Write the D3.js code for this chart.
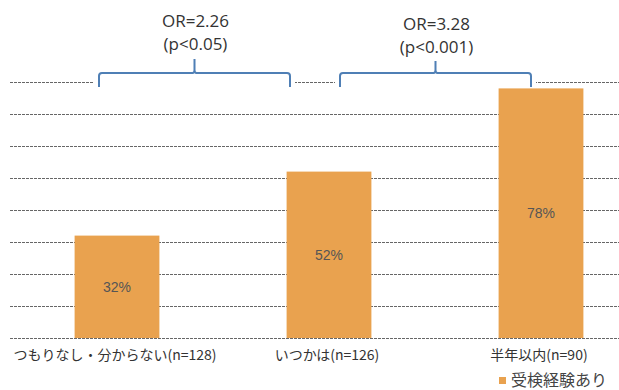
<!DOCTYPE html>
<html><head><meta charset="utf-8">
<script src="https://cdn.jsdelivr.net/npm/d3@7"></script>
<style>html,body{margin:0;padding:0;background:#fff;}svg{display:block;}</style>
</head><body>
<script>
const categories = ["つもりなし・分からない(n=128)", "いつかは(n=126)", "半年以内(n=90)"];
const values = [32, 52, 78];
const seriesName = "受検経験あり";
const gridTicks = [0, 10, 20, 30, 40, 50, 60, 70, 80];
const orLabels = ["OR=2.26", "OR=3.28"];
const pLabels = ["(p<0.05)", "(p<0.001)"];
const bracketPairs = [[0, 1], [1, 2]];

const W = 619, H = 390;
const svg = d3.select("body").append("svg").attr("width", W).attr("height", H);

const y = d3.scaleLinear().domain([0, 80]).range([338, 82]);
const x = d3.scaleBand().domain(categories).range([11, 647]).paddingInner(0.6).paddingOuter(0.3);
const xc = d => x(d) + x.bandwidth() / 2;

// gridlines
svg.append("g").selectAll("line").data(gridTicks).join("line")
  .attr("x1", 10).attr("x2", W)
  .attr("y1", d => Math.round(y(d)) + 0.5).attr("y2", d => Math.round(y(d)) + 0.5)
  .attr("stroke", "#555").attr("stroke-width", 0.9).attr("stroke-dasharray", "3,1");

// bars
svg.append("g").selectAll("rect").data(values).join("rect")
  .attr("x", (d, i) => x(categories[i])).attr("width", x.bandwidth())
  .attr("y", d => y(d)).attr("height", d => y(0) - y(d))
  .attr("fill", "#E9A24F");

// value labels
svg.append("g").selectAll("text").data(values).join("text")
  .attr("x", (d, i) => xc(categories[i]))
  .attr("y", d => (y(d) + y(0)) / 2 + 5)
  .attr("text-anchor", "middle")
  .attr("font-family", "Liberation Sans, Arial, sans-serif")
  .attr("font-size", 14).attr("fill", "#555")
  .text(d => d + "%");

// category labels
svg.append("g").selectAll("text").data(categories).join("text")
  .attr("x", d => xc(d) - 2).attr("y", 360)
  .attr("text-anchor", "middle")
  .attr("font-family", "Noto Sans CJK JP, sans-serif")
  .attr("font-size", 14).attr("fill", "#333")
  .text(d => d);

// brackets
bracketPairs.forEach((p, i) => {
  const x0 = xc(categories[p[0]]) + (i === 0 ? -18 : 11);
  const x1 = xc(categories[p[1]]) + (i === 0 ? -39 : -10);
  const mid = (x0 + x1) / 2;
  const hy = 73, ey = 87, r = 3;
  svg.append("rect").attr("x", x0 - 5).attr("y", hy).attr("width", x1 - x0 + 10).attr("height", 12).attr("fill", "#fff");
  const path = `M${x0},${ey} L${x0},${hy + r} Q${x0},${hy} ${x0 + r},${hy} L${mid - 2},${hy} Q${mid},${hy} ${mid},${hy - 3} L${mid},${hy - 14 + i * 2} M${mid},${hy - 3} Q${mid},${hy} ${mid + 2},${hy} L${x1 - r},${hy} Q${x1},${hy} ${x1},${hy + r} L${x1},${ey}`;
  svg.append("path").attr("d", path).attr("fill", "none").attr("stroke", "#4F7FB5").attr("stroke-width", 2);
  svg.append("text").attr("x", mid + 1).attr("y", 27 + i * 3).attr("text-anchor", "middle")
    .attr("font-family", "Open Sans, sans-serif").attr("font-size", 17).attr("fill", "#333").text(orLabels[i]);
  svg.append("text").attr("x", mid + 1).attr("y", 50 + i * 3).attr("text-anchor", "middle")
    .attr("font-family", "Open Sans, sans-serif").attr("font-size", 17).attr("fill", "#333").text(pLabels[i]);
});

// legend
const lg = svg.append("g").attr("transform", "translate(499,377)");
lg.append("rect").attr("width", 7).attr("height", 7).attr("fill", "#E9A24F");
lg.append("text").attr("x", 12).attr("y", 9).attr("font-family", "Noto Sans CJK JP, sans-serif")
  .attr("font-size", 16).attr("fill", "#444").text(seriesName);
</script>
</body></html>
